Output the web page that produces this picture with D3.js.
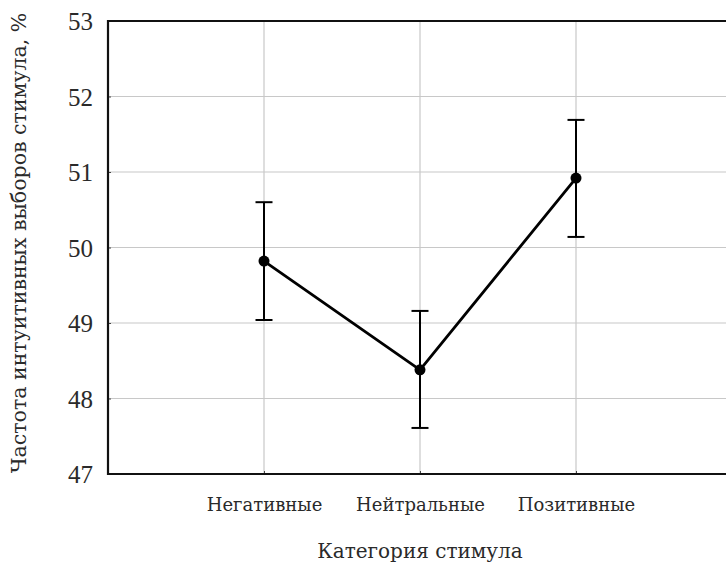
<!DOCTYPE html>
<html>
<head>
<meta charset="utf-8">
<script src="https://cdn.jsdelivr.net/npm/d3@7"></script>
<style>
  body { margin: 0; background: #fff; }
  text { font-family: "DejaVu Serif", serif; fill: #2a2a2a; }
</style>
</head>
<body>
<svg id="chart" width="726" height="563"></svg>
<script>
// data
var categories = ["Негативные", "Нейтральные", "Позитивные"];
var means = [49.82, 48.38, 50.92];
var lower = [49.04, 47.61, 50.14];
var upper = [50.60, 49.16, 51.69];
var yTicks = [47, 48, 49, 50, 51, 52, 53];

var svg = d3.select("#chart");
var margin = {top: 21, left: 108, bottom: 474};

var x = d3.scalePoint().domain(categories).range([margin.left, 732]).padding(1);
var y = d3.scaleLinear().domain([47, 53]).range([margin.bottom, margin.top]);

var rows = categories.map(function(c, i) {
  return {cat: c, mean: means[i], lo: lower[i], hi: upper[i]};
});

// grid
svg.append("g").selectAll("line")
  .data(yTicks.slice(1, -1))
  .enter().append("line")
  .attr("x1", margin.left).attr("x2", 726)
  .attr("y1", function(d) { return y(d); }).attr("y2", function(d) { return y(d); })
  .style("stroke", "#c8c8c8").style("stroke-width", 1.2);

svg.append("g").selectAll("line")
  .data(categories)
  .enter().append("line")
  .attr("x1", function(d) { return x(d); }).attr("x2", function(d) { return x(d); })
  .attr("y1", margin.top).attr("y2", margin.bottom)
  .style("stroke", "#c8c8c8").style("stroke-width", 1.2);

// axes
var yAxis = svg.append("g")
  .attr("transform", "translate(" + margin.left + ",0)")
  .call(d3.axisLeft(y).tickValues(yTicks).tickFormat(d3.format("d")).tickSize(-3).tickPadding(15));
yAxis.attr("font-family", null).attr("font-size", null);
yAxis.select(".domain").remove();
yAxis.selectAll("line").style("stroke", "#444");
yAxis.selectAll("text")
  .attr("dy", "0.34em")
  .style("font-family", "'Liberation Serif', serif")
  .style("font-size", "25px")
  .attr("fill", "#2a2a2a");

var xAxis = svg.append("g")
  .attr("transform", "translate(0," + margin.bottom + ")")
  .call(d3.axisBottom(x).tickSize(-3).tickPadding(24));
xAxis.attr("font-family", null).attr("font-size", null);
xAxis.select(".domain").remove();
xAxis.selectAll("line").style("stroke", "#444");
xAxis.selectAll("text").style("font-size", "18px").attr("fill", "#2a2a2a");

// frame
svg.append("line").attr("x1", margin.left).attr("x2", margin.left)
  .attr("y1", margin.top - 1).attr("y2", margin.bottom + 1)
  .style("stroke", "#111").style("stroke-width", 2.2);
svg.append("line").attr("x1", margin.left).attr("x2", 726)
  .attr("y1", margin.top).attr("y2", margin.top)
  .style("stroke", "#111").style("stroke-width", 2.2);
svg.append("line").attr("x1", margin.left).attr("x2", 726)
  .attr("y1", margin.bottom).attr("y2", margin.bottom)
  .style("stroke", "#111").style("stroke-width", 2.2);

// error bars
var eb = svg.append("g").selectAll("g").data(rows).enter().append("g");
eb.append("line")
  .attr("x1", function(d) { return x(d.cat); }).attr("x2", function(d) { return x(d.cat); })
  .attr("y1", function(d) { return y(d.lo); }).attr("y2", function(d) { return y(d.hi); })
  .style("stroke", "#000").style("stroke-width", 2);
eb.append("line")
  .attr("x1", function(d) { return x(d.cat) - 8.5; }).attr("x2", function(d) { return x(d.cat) + 8.5; })
  .attr("y1", function(d) { return y(d.lo); }).attr("y2", function(d) { return y(d.lo); })
  .style("stroke", "#000").style("stroke-width", 2);
eb.append("line")
  .attr("x1", function(d) { return x(d.cat) - 8.5; }).attr("x2", function(d) { return x(d.cat) + 8.5; })
  .attr("y1", function(d) { return y(d.hi); }).attr("y2", function(d) { return y(d.hi); })
  .style("stroke", "#000").style("stroke-width", 2);

// mean line + points
svg.append("path")
  .datum(rows)
  .attr("d", d3.line().x(function(d) { return x(d.cat); }).y(function(d) { return y(d.mean); }))
  .style("fill", "none").style("stroke", "#000").style("stroke-width", 2.8);

svg.append("g").selectAll("circle").data(rows).enter().append("circle")
  .attr("cx", function(d) { return x(d.cat); })
  .attr("cy", function(d) { return y(d.mean); })
  .attr("r", 5.5)
  .style("fill", "#000");

// titles
svg.append("text")
  .attr("x", 420).attr("y", 558)
  .attr("text-anchor", "middle")
  .style("font-size", "20px")
  .text("Категория стимула");

svg.append("text")
  .attr("transform", "translate(26," + 243 + ") rotate(-90)")
  .attr("text-anchor", "middle")
  .style("font-size", "20.5px")
  .text("Частота интуитивных выборов стимула, %");
</script>
</body>
</html>
